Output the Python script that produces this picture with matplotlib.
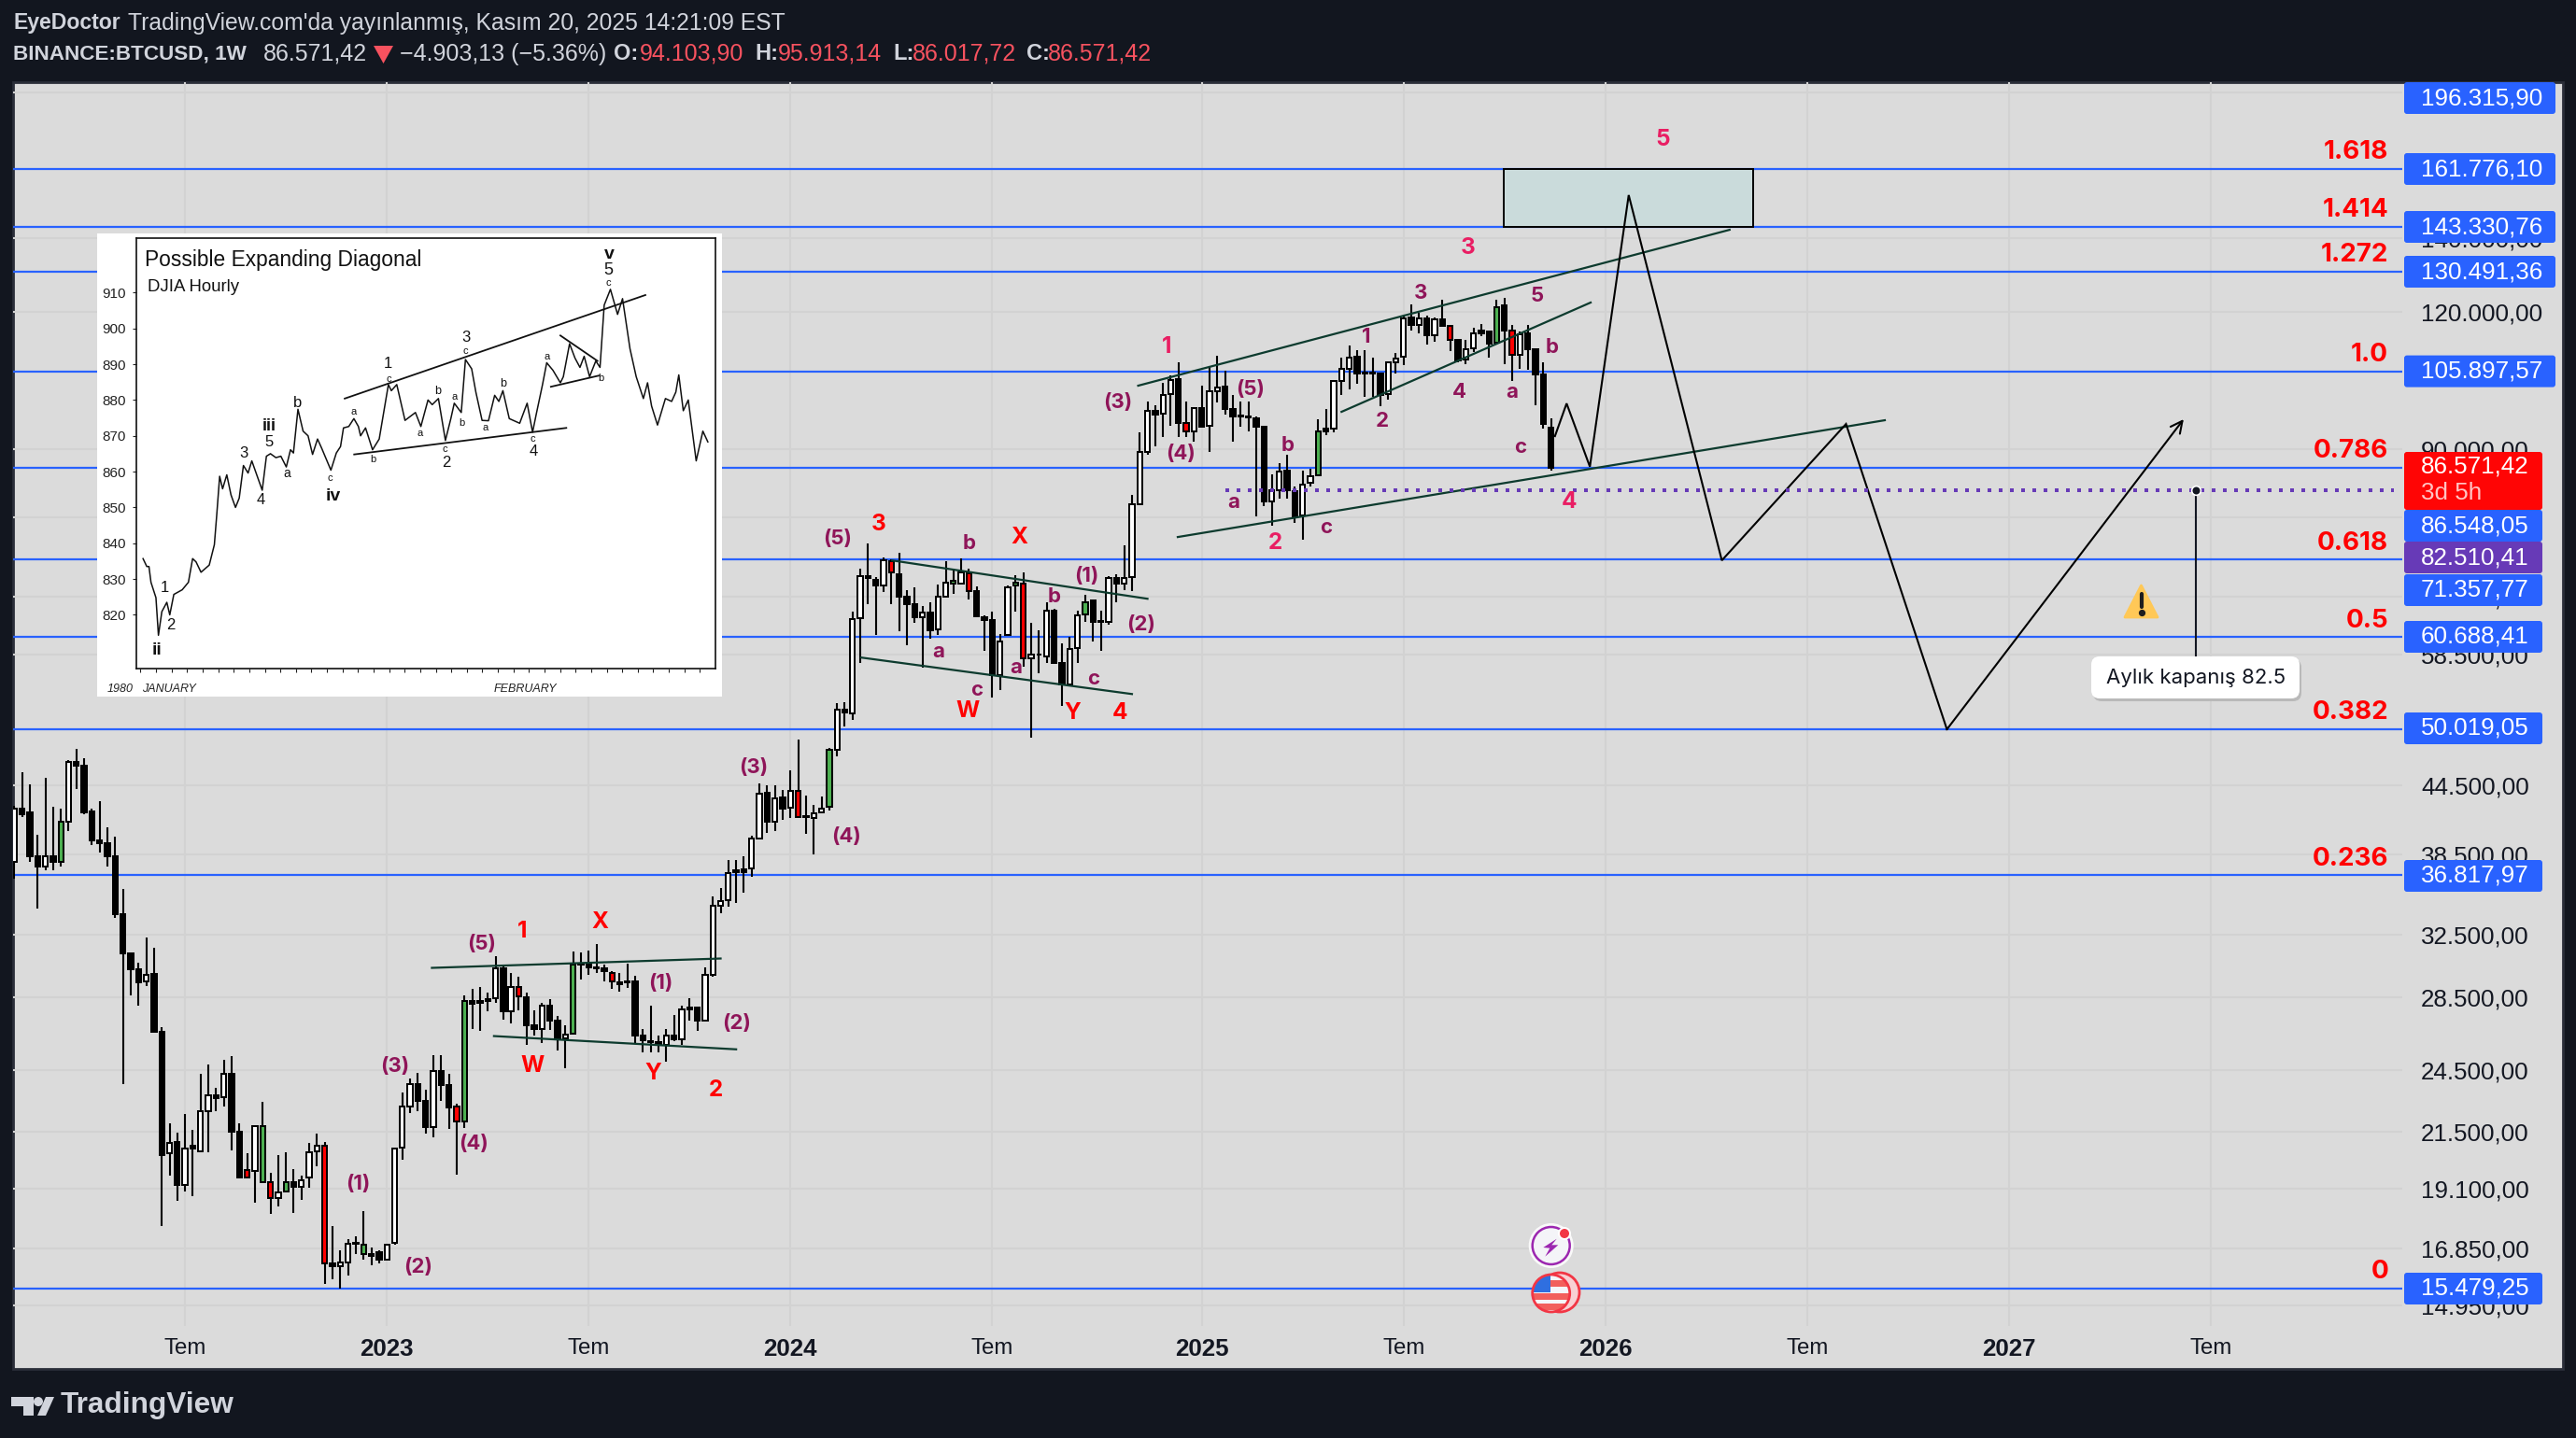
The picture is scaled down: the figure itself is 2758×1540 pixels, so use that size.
import matplotlib
matplotlib.use('Agg')
import matplotlib.pyplot as plt
from matplotlib.patches import Rectangle, Circle, FancyBboxPatch, Polygon

plt.rcParams['font.family'] = ['Liberation Sans', 'DejaVu Sans']

# weekly BTCUSD candles, first bar is the week of 2022-01-31
opens = [37880, 42360, 42000, 38340, 37530, 38340, 37880, 41230, 46700, 46300, 42100, 39600, 39350, 38330, 33970,
         31250, 30260, 29480, 29950, 26520, 20560, 21040, 19250, 20750, 20660, 22480, 23220, 23120, 24270, 21530,
         19870, 19830, 21780, 19360, 18730, 18990, 19370, 19180, 19540, 20630, 20900, 16330, 16230, 16370, 17000,
         16990, 16660, 16720, 16460, 17040, 20790, 22700, 23780, 22970, 21730, 24420, 23730, 22660, 22000, 28290,
         28170, 28290, 28440, 30300, 27680, 29150, 28500, 26880, 26700, 28000, 27140, 26150, 26420, 30520, 30620,
         30340, 30300, 30030, 29400, 29400, 29500, 26300, 26000, 25950, 25800, 26300, 26100, 27810, 27900, 27140,
         29880, 34520, 34940, 37200, 37050, 37330, 39750, 43810, 41240, 43310, 42420, 43930, 41620, 41500, 42000,
         42490, 47900, 52130, 51700, 63100, 68950, 68400, 67570, 71100, 69200, 66020, 65000, 63250, 63900, 61700,
         66050, 68200, 67800, 69400, 66800, 63300, 62900, 56040, 60970, 68000, 67800, 58030, 58440, 58300, 64150,
         57470, 54900, 59300, 63600, 65500, 62670, 62600, 68600, 67900, 68860, 80130, 89340, 97500, 96900, 100900,
         104200, 95000, 93300, 98100, 94400, 101500, 102500, 97800, 96500, 96300, 96000, 94200, 80550, 82500, 86000,
         82400, 78300, 83900, 85100, 93900, 93900, 103800, 106500, 109100, 105500, 105600, 105500, 100900, 108000,
         109200, 118500, 116700, 118400, 114100, 118000, 116400, 113100, 108500, 111100, 114600, 115000, 112400,
         121500, 115400, 109700, 114700, 110900, 105200, 94103]
highs = [42590, 45680, 44590, 40100, 45200, 42540, 42360, 46900, 48020, 47060, 42360, 43000, 40700, 39920, 35820,
         31300, 30630, 32300, 31650, 26770, 21880, 21480, 22320, 21600, 24300, 24750, 23600, 25020, 25200, 21880,
         20550, 21810, 22900, 19740, 20500, 20600, 19910, 19640, 21020, 21440, 21040, 17650, 16770, 17180, 17280,
         18200, 16890, 16780, 17000, 20800, 23370, 24060, 24340, 23500, 25260, 25260, 24280, 22800, 28650, 29030,
         29130, 28780, 31060, 30550, 30030, 29780, 28800, 27770, 28200, 28420, 27440, 26910, 31410, 31300, 31470,
         31880, 30520, 30100, 30030, 30600, 29850, 26690, 28010, 26300, 26690, 27470, 28000, 28480, 27950, 30340,
         35200, 35830, 37990, 37990, 38290, 40010, 44680, 44440, 44480, 44000, 45850, 48950, 43550, 42670, 43440,
         48120, 52800, 52950, 64000, 69960, 73810, 68760, 71680, 71400, 72400, 66990, 67270, 64700, 65200, 67760,
         71150, 70000, 71600, 69960, 67500, 63500, 63950, 61000, 67620, 69000, 69500, 62450, 61500, 65200, 64400,
         59900, 60690, 64100, 66300, 65500, 64150, 68950, 69200, 73600, 81700, 93100, 99300, 98700, 103400, 104900,
         108000, 99300, 98200, 102800, 106900, 109500, 106100, 100700, 99300, 99300, 96300, 94400, 85300, 87400, 88900,
         83200, 86000, 86300, 95700, 97900, 103800, 108900, 111800, 110700, 110700, 108900, 105700, 107900, 110000,
         118800, 121900, 119600, 118900, 118600, 123000, 116600, 113300, 113100, 116000, 116900, 115100, 123000,
         123600, 116600, 115200, 116600, 110950, 107900, 95913]
lows = [36540, 41640, 37880, 34320, 37240, 37190, 37530, 40410, 44120, 41830, 39220, 38590, 37470, 33650, 23770,
        28620, 28000, 29190, 26500, 17660, 19620, 18600, 18970, 18800, 20620, 20620, 22440, 22680, 20690, 19540,
        19500, 18530, 19360, 18100, 18390, 18960, 18150, 18650, 19140, 20010, 15650, 15790, 15480, 15930, 16660,
        16440, 16270, 16320, 16460, 16990, 20300, 22380, 22440, 21430, 21280, 22940, 21660, 19680, 21680, 26680,
        26570, 27700, 28170, 27220, 26990, 27730, 25800, 26320, 25900, 26620, 25500, 24590, 26400, 29600, 29900,
        30000, 29500, 29000, 28840, 29100, 25900, 25400, 25430, 25400, 24900, 26000, 25830, 27130, 26560, 27140,
        29800, 34020, 34450, 34760, 35530, 36700, 39750, 40250, 40440, 41400, 41500, 41620, 40140, 38440, 41960,
        42220, 47230, 50300, 50950, 57500, 64970, 60920, 66680, 64970, 61440, 59590, 62480, 56870, 60490, 60980,
        66050, 66400, 67700, 65600, 63350, 58900, 53500, 54300, 60820, 63950, 57000, 49130, 56200, 57500, 57470,
        52550, 54750, 57500, 62600, 60130, 59000, 62300, 65270, 67000, 66840, 80130, 88900, 90400, 92300, 94500,
        92200, 92200, 91300, 94300, 89400, 99200, 96800, 91300, 94200, 93300, 78160, 79900, 76600, 81100, 81100,
        77040, 74350, 83200, 85100, 92700, 93100, 100700, 101900, 103200, 100300, 100300, 98400, 99700, 105400,
        107300, 115400, 114600, 112100, 112700, 116300, 110400, 108000, 107400, 110300, 114000, 108900, 112000,
        107500, 103700, 106500, 106300, 98700, 93900, 86017]
closes = [42360, 41870, 38340, 37530, 38340, 37880, 41230, 46720, 46300, 42000, 39600, 39350, 38330, 33970, 31250,
          30260, 29430, 29890, 26520, 20500, 21010, 19230, 20750, 20880, 22480, 23220, 23080, 24270, 21530, 19540,
          19540, 21780, 19360, 18720, 18960, 19370, 19170, 19430, 20590, 20900, 16330, 16230, 16350, 17000, 17040,
          16660, 16600, 16460, 16990, 20750, 22700, 23780, 22970, 21730, 24420, 23730, 22650, 22000, 28290, 28150,
          28290, 28400, 30300, 27680, 29150, 28560, 26880, 26670, 28000, 27140, 26130, 26360, 30520, 30620, 30340,
          30300, 30130, 29500, 29300, 29500, 26300, 26050, 25950, 25800, 26300, 26100, 27810, 27900, 27140, 29880,
          34520, 34870, 37010, 37050, 37250, 39750, 43720, 41240, 43240, 42330, 43930, 41620, 41700, 41900, 42380,
          47900, 52130, 51800, 63020, 68950, 68600, 67570, 71230, 69500, 66020, 65000, 63200, 63900, 61480, 66050,
          68000, 67900, 69450, 66800, 63350, 62900, 56040, 60060, 67330, 67600, 58030, 58440, 58500, 64150, 57470,
          54900, 59200, 63520, 65300, 62670, 62800, 68600, 67800, 68700, 80130, 89340, 97500, 96800, 100700, 104050,
          95000, 93300, 98100, 94300, 101500, 102400, 97800, 96400, 96400, 96100, 94200, 80550, 82500, 85800, 82520,
          78160, 83500, 85000, 93400, 93400, 103800, 106400, 108900, 105500, 105600, 105500, 100800, 107900, 108700,
          118300, 116700, 118400, 114100, 118000, 116500, 113100, 108300, 110900, 114600, 115400, 112200, 121200,
          115400, 109700, 114500, 110800, 105200, 94800, 86571]
# ten bars per chunk: white, black, green, red bodies
body_colors = ('wkkkwkgwkk' 'kkkkkkkwkk' 'wkwkwwkwkk' 'rwgrwgkwww' 'rkwwkgkkww'
               'wwkkwkkrgk' 'wkwkwrkkwk' 'kwgkkkkrkk' 'kkkkwkwkkw' 'wwwkkwwkwk'
               'wrkwwgwkww' 'kkwrkkkwkw' 'wgwrkkkwwg' 'rwkwkkwwgk' 'kwkwwwwkww'
               'krwkwwkkkk' 'kkwwkkwwgk' 'wwwkkkkwww' 'kwkwkrkwwk' 'kgkrwkkkk')

# fib levels and chart values
fib_prices = [161776.10, 143330.76, 130491.36, 105897.57, 86548.05, 71357.77, 60688.41, 50019.05, 36817.97, 15479.25]
grid_prices = [190000, 140000, 120000, 90000, 78000, 66000, 58500, 44500, 38500, 32500, 28500, 24500, 21500,
               19100, 16850, 14950]
avg_close = 82510.41
last_close = 86571.42
tick_bars = [22, 48, 74, 100, 126, 153, 179, 205, 231, 257, 283]
tick_labels = ['Tem', '2023', 'Tem', '2024', 'Tem', '2025', 'Tem', '2026', 'Tem', '2027', 'Tem']

# drawn trend lines: bar, price
trend_lines = [
    ((53.8, 30330), (91.0, 30930)),
    ((61.8, 26290), (93.0, 25570)),
    ((113.1, 71240), (146.0, 65740)),
    ((109.1, 58120), (144.0, 53840)),
    ((144.8, 102750), (221.0, 142450)),
    ((149.9, 74820), (241.0, 95570)),
    ((171.0, 97270), (203.1, 122310)),
]
path_bars = [198.5, 200, 203, 208, 220, 236, 249, 279.5]
path_prices = [92440, 98990, 86700, 153200, 71240, 94820, 50000, 95770]

# DJIA inset series
djia_days = [.16, .40, .54, .67, .99, 1.15, 1.37, 1.69, 1.88, 2.14, 2.68, 3.08, 3.35, 3.57, 3.89, 4.42, 4.75, 4.91,
             5.09, 5.28, 5.55, 5.82, 6.11, 6.35, 6.62, 6.92, 7.16, 7.51, 7.83, 8.10, 8.36, 8.71, 9.03, 9.38, 9.65,
             9.84, 10.13, 10.46, 10.78, 11.07, 11.39, 11.66, 12.25, 12.6, 12.87, 13.06, 13.4, 13.73, 14.02, 14.16,
             14.48, 14.93, 15.36, 15.95, 16.14, 16.49, 17.02, 17.69, 18.04, 18.5, 18.77, 19.17, 19.62, 19.97, 20.19,
             20.64, 20.91, 21.31, 21.58, 21.98, 22.39, 22.79, 23.06, 23.32, 23.73, 24.4, 24.88, 25.23, 25.47, 25.87,
             26.14, 26.54, 27.02, 27.21, 27.61, 27.96, 28.28, 28.55, 28.9, 29.3, 29.57, 29.84, 30.24, 30.7, 31.02,
             31.5, 31.9, 32.36, 32.63, 32.89, 33.27, 33.78, 34.18, 34.45, 34.64, 34.93, 35.25, 35.76, 36.19, 36.51]
djia_values = [835.7, 833.5, 833.5, 829.1, 824.8, 814.3, 820.9, 823.5, 820, 825.7, 827, 829.1, 835.7, 834.8, 831.9,
               833.9, 839.6, 848.3, 858.7, 855.2, 859.1, 853.5, 850, 852.6, 861.7, 859.6, 863, 858.7, 854.8, 864.3,
               865, 863.9, 864.3, 861.3, 866.1, 865.2, 877.4, 871.3, 870, 864.8, 869.1, 866.5, 860.4, 865.2, 867,
               872.2, 872.6, 874.8, 872.6, 870, 872.2, 866.1, 869.1, 884.3, 882.6, 884.3, 874.3, 876.5, 872.6, 880,
               878.7, 880.4, 868.7, 874.8, 879.1, 876.5, 891.3, 888.7, 882.2, 874.3, 874.2, 881.3, 879.6, 882.6,
               874.8, 873.5, 879.1, 871, 876.1, 884.3, 890.4, 888.3, 884.8, 886.5, 895.7, 891.7, 889.1, 892.2, 886.5,
               890.9, 889.1, 906.5, 910.9, 903.9, 908.3, 894.3, 886.5, 880.4, 884.8, 878.3, 873, 880.4, 879.6, 882.2,
               887, 877, 880, 863, 871.3, 868.3]
djia_lines = [
    ((13.14, 880.4), (32.49, 909.3)),
    ((13.75, 864.8), (27.4, 872.2)),
    ((27.02, 898), (29.41, 890.9)),
    ((26.41, 883.7), (29.49, 886.8)),
]

BG = '#12161f'
PANE = '#dbdbdb'
GRID = '#d2d2d2'
BLUE = '#2962ff'
MAROON = '#8f1559'
RED = '#ff0000'
PINK = '#e91e63'
HEAD_RED = '#f7525f'
TXT = '#d1d4dc'
INTER = ['Inter', 'DejaVu Sans']
W, H = 2758, 1540


def fmt(v):
    return f'{v:,.2f}'.replace(',', '#').replace('.', ',').replace('#', '.')


def px_axes(zorder):
    a = fig.add_axes([0, 0, 1, 1], zorder=zorder)
    a.set_xlim(0, W)
    a.set_ylim(H, 0)
    a.axis('off')
    a.patch.set_alpha(0)
    return a


fig = plt.figure(figsize=(W / 100, H / 100), dpi=100, facecolor=BG)

under = px_axes(0)
under.add_patch(Rectangle((14, 88), 2730, 1378, fc=PANE, ec='#2a2e39', lw=2))

ax = fig.add_axes([14 / W, 1 - 1420 / H, (2572 - 14) / W, (1420 - 88) / H], zorder=1)
ax.patch.set_alpha(0)
ax.set_yscale('log')
ax.set_xlim(-0.16, 307.67)
ax.set_ylim(14320, 194100)
for s in ax.spines.values():
    s.set_visible(False)
ax.minorticks_off()
ax.set_yticks(grid_prices)
ax.set_yticklabels([fmt(p) for p in grid_prices], fontsize=18.7, color='#131722')
ax.yaxis.tick_right()
ax.tick_params(axis='y', length=0, pad=14.4, which='both')
ax.yaxis.set_minor_locator(plt.NullLocator())
ax.set_xticks(tick_bars)
ax.set_xticklabels(tick_labels, fontsize=17.3, color='#131722')
ax.tick_params(axis='x', length=0, pad=9)
for lab, t in zip(ax.get_xticklabels(), tick_labels):
    if t != 'Tem':
        lab.set_fontweight('bold')
        lab.set_fontsize(18.6)
ax.grid(True, color=GRID, lw=1.5, zorder=0)
ax.set_axisbelow(True)

# fib lines
for p in fib_prices:
    ax.axhline(p, color=BLUE, lw=1.6, zorder=1)

# candles
bars = range(len(opens))
colors = {'w': 'white', 'k': 'black', 'g': '#4caf50', 'r': RED}
ax.vlines(bars, lows, highs, color='black', lw=1.5, zorder=2)
tops = [max(o, c) for o, c in zip(opens, closes)]
bots = [min(o, c) for o, c in zip(opens, closes)]
ax.bar(bars, [t - b for t, b in zip(tops, bots)], bottom=bots, width=0.64,
       color=[colors[c] for c in body_colors], edgecolor='black', linewidth=1.44, zorder=3)

# drawings
ax.add_patch(Rectangle((191.9, 143330.76), 32.1, 161776.10 - 143330.76, fc='#cadbdb', ec='black', lw=1.4, zorder=2))
for (x0, y0), (x1, y1) in trend_lines:
    ax.plot([x0, x1], [y0, y1], color='#0d3b2e', lw=1.6, zorder=4)
ax.plot(path_bars[:-1], path_prices[:-1], color='black', lw=1.5, zorder=4, solid_joinstyle='miter')
ax.annotate('', xy=(path_bars[-1], path_prices[-1]), xytext=(path_bars[-2], path_prices[-2]),
            arrowprops=dict(arrowstyle='->,head_length=0.9,head_width=0.45', color='black', lw=1.5,
                            shrinkA=0, shrinkB=0), zorder=4)
ax.plot([156, 306.6], [avg_close, avg_close], color='#673ab7', lw=2.88, ls=(0, (1, 2)), zorder=4)
ax.plot([281.1, 281.1], [avg_close, 58220], color='#131722', lw=1.5, zorder=4)
ax.plot([281.1], [avg_close], 'o', ms=7, mfc='#131722', mec='white', mew=1.2, zorder=5)

over = px_axes(10)


def txt(x, y, s, **kw):
    kw.setdefault('ha', 'center')
    kw.setdefault('va', 'center')
    over.text(x, y, s, **kw)


# header
txt(14, 25, 'EyeDoctor', ha='left', color=TXT, fontsize=16.6, fontweight='bold')
txt(137, 25, "TradingView.com'da yayınlanmış, Kasım 20, 2025 14:21:09 EST", ha='left', color=TXT, fontsize=17.8)
txt(14, 58, 'BINANCE:BTCUSD, 1W', ha='left', color=TXT, fontsize=16.2, fontweight='bold')
txt(282, 58, '86.571,42', ha='left', color=TXT, fontsize=18)
over.add_patch(Polygon([(400, 49), (421, 49), (410.5, 68)], fc=HEAD_RED, ec='none'))
txt(428, 58, '−4.903,13 (−5.36%)', ha='left', color=TXT, fontsize=18)
for x0, name, x1, val in [(657, 'O:', 685, '94.103,90'), (808, 'H:', 833, '95.913,14'),
                          (956, 'L:', 977, '86.017,72'), (1099, 'C:', 1122, '86.571,42')]:
    txt(x0, 58, name, ha='left', color=TXT, fontsize=17, fontweight='bold')
    txt(x1, 58, val, ha='left', color=HEAD_RED, fontsize=18)

# scale boxes
box_rows = [(196315.90, 105, 2736, BLUE), (161776.10, 181, 2736, BLUE), (143330.76, 243, 2736, BLUE),
            (130491.36, 291, 2736, BLUE), (105897.57, 397.6, 2736, BLUE), (86548.05, 563, 2722, BLUE),
            (82510.41, 597, 2722, '#673ab7'), (71357.77, 632, 2722, BLUE), (60688.41, 682, 2722, BLUE),
            (50019.05, 780, 2722, BLUE), (36817.97, 938, 2722, BLUE), (15479.25, 1380, 2722, BLUE)]
for val, yc, xr, col in box_rows:
    over.add_patch(FancyBboxPatch((2574, yc - 17), xr - 2574, 34, boxstyle='round,pad=0,rounding_size=3',
                                  fc=col, ec='none'))
    txt(2592, yc, fmt(val), ha='left', color='white', fontsize=18.7)
over.add_patch(FancyBboxPatch((2574, 484), 148, 62, boxstyle='round,pad=0,rounding_size=3', fc='#ff0505', ec='none'))
txt(2592, 500, fmt(last_close), ha='left', color='white', fontsize=18.7)
txt(2592, 528, '3d 5h', ha='left', color='#ffc4c4', fontsize=18.7)

# fib texts
for s, y in [('1.618', 163), ('1.414', 225), ('1.272', 273), ('1.0', 380), ('0.786', 483), ('0.618', 582),
             ('0.5', 665), ('0.382', 763), ('0.236', 920), ('0', 1362)]:
    txt(2557, y, s, ha='right', color=RED, fontsize=20, fontweight='bold', family=INTER)

# wave counts
maroon_labels = [('(5)', 516, 1011), ('(1)', 707, 1053), ('(2)', 789, 1096), ('(3)', 423, 1142), ('(1)', 383, 1268),
                 ('(2)', 448, 1357), ('(4)', 507, 1225), ('(5)', 897, 577), ('b', 1038, 582), ('(1)', 1163, 617),
                 ('b', 1129, 639), ('(2)', 1222, 669), ('a', 1005, 698), ('a', 1088, 715), ('c', 1171, 727),
                 ('c', 1046, 739), ('(4)', 906, 896), ('(3)', 807, 822), ('(3)', 1197, 431), ('(5)', 1339, 417),
                 ('(4)', 1264, 486), ('1', 1463, 361), ('2', 1480, 451), ('4', 1562, 420), ('a', 1619, 420),
                 ('b', 1662, 372), ('c', 1628, 479), ('b', 1379, 477), ('a', 1321, 538), ('c', 1420, 565),
                 ('3', 1521, 314), ('5', 1646, 317)]
for s, x, y in maroon_labels:
    txt(x, y, s, color=MAROON, fontsize=16, fontweight='bold', family=INTER)
red_labels = [('1', 559, 998), ('X', 642, 988), ('W', 570, 1141), ('Y', 699, 1150), ('2', 766, 1167),
              ('3', 941, 562), ('X', 1091, 575), ('W', 1036, 762), ('Y', 1148, 763), ('4', 1199, 763)]
for s, x, y in red_labels:
    txt(x, y, s, color=RED, fontsize=17.5, fontweight='bold', family=INTER)
pink_labels = [('1', 1249, 372), ('2', 1365, 582), ('4', 1680, 537), ('3', 1572, 266), ('5', 1780, 149)]
for s, x, y in pink_labels:
    txt(x, y, s, color=PINK, fontsize=17.5, fontweight='bold', family=INTER)

# tooltip
over.add_patch(FancyBboxPatch((2241, 706), 223, 45, boxstyle='round,pad=0,rounding_size=9', fc='#b9b9b9', ec='none'))
over.add_patch(FancyBboxPatch((2239, 703), 223, 45, boxstyle='round,pad=0,rounding_size=9', fc='white', ec='none'))
txt(2351, 726, 'Aylık kapanış 82.5', color='#131722', fontsize=16, family=INTER)

# warning sign
over.add_patch(Polygon([(2292.5, 627), (2310, 661), (2275, 661)], fc='#ffc857', ec='#ffc857', lw=2, joinstyle='round'))
over.plot([2292.5, 2292.5], [636, 650], color='#1e1e1e', lw=3, solid_capstyle='round')
over.plot([2292.5], [656], 'o', ms=4.2, color='#1e1e1e')

# news and earnings icons
over.add_patch(Circle((1660.7, 1334), 24, fc='white', ec='none', alpha=0.85))
over.add_patch(Circle((1660.7, 1334), 20, fc='#f4f4f8', ec='#9c27b0', lw=1.8))
over.add_patch(Polygon([(1666.7, 1326.7), (1652.3, 1336), (1659.3, 1336.7), (1654.3, 1345.7), (1668.3, 1333.3),
                        (1661.3, 1333.3)], fc='#9c27b0', ec='none'))
over.add_patch(Circle((1675, 1321), 7, fc='white', ec='none'))
over.add_patch(Circle((1675, 1321), 5, fc='#f23645', ec='none'))
over.add_patch(Circle((1670, 1384), 21, fc='#f8d0d4', ec='#f23645', lw=2))
flag = Circle((1660.7, 1385), 20, fc='#f5f5fa', ec='none')
over.add_patch(flag)
for y0 in (1371, 1385, 1396):
    r = Rectangle((1640, y0), 42, 7, fc='#f25f5c', ec='none')
    over.add_patch(r)
    r.set_clip_path(flag)
canton = Rectangle((1640, 1364), 20, 20, fc='#2f6fe0', ec='none')
over.add_patch(canton)
canton.set_clip_path(flag)
over.add_patch(Circle((1660.7, 1385), 20, fc='none', ec='#f23645', lw=2))

# logo
over.add_patch(Polygon([(12, 1496), (36, 1496), (36, 1516), (25, 1516), (25, 1506), (12, 1506)], fc=TXT, ec='none'))
over.add_patch(Circle((41, 1501), 5, fc=TXT, ec='none'))
over.add_patch(Polygon([(40, 1516), (49, 1496), (58, 1496), (49, 1516)], fc=TXT, ec='none'))
txt(65, 1505, 'TradingView', ha='left', color=TXT, fontsize=22.8, fontweight='bold')

# inset picture
over.add_patch(Rectangle((104, 250), 669, 496, fc='white', ec='none', zorder=3))
ins = fig.add_axes([146 / W, 1 - 716 / H, (766 - 146) / W, (716 - 255) / H], zorder=11)
ins.patch.set_alpha(0)
ins.set_xlim(-0.27, 37)
ins.set_ylim(805, 925.2)
ins.plot(djia_days, djia_values, color='#111111', lw=1.1)
for (x0, y0), (x1, y1) in djia_lines:
    ins.plot([x0, x1], [y0, y1], color='#111111', lw=1.3)
ins.set_yticks(range(820, 920, 10))
ins.set_yticklabels([str(v) for v in range(820, 920, 10)], fontsize=11, color='#222222')
ins.set_xticks(range(0, 37))
ins.set_xticklabels([])
ins.tick_params(axis='both', length=3, width=0.8, pad=5, color='#222222')
for s in ins.spines.values():
    s.set_linewidth(1.2)
    s.set_color('#111111')
over2 = px_axes(12)
over2.text(155, 278, 'Possible Expanding Diagonal', fontsize=16.4, color='#111111', va='center')
over2.text(158, 307, 'DJIA Hourly', fontsize=13.4, color='#111111', va='center')
over2.text(115, 738, '1980', fontsize=9, color='#222222', style='italic', va='center')
over2.text(152, 738, 'JANUARY', fontsize=9, color='#222222', style='italic', va='center')
over2.text(529, 738, 'FEBRUARY', fontsize=9, color='#222222', style='italic', va='center')
inset_labels = [('1', 728, 450, 12), ('c', 730, 497, 8), ('3', 915, 365, 12), ('c', 915, 407, 8), ('2', 868, 765, 12),
                ('c', 865, 722, 8), ('4', 1077, 730, 12), ('c', 1076, 690, 8), ('v', 1260, 98, 14), ('5', 1258, 150, 13),
                ('c', 1258, 188, 8), ('b', 513, 575, 12), ('iii', 445, 650, 13), ('5', 443, 700, 12), ('3', 382, 738, 12),
                ('4', 425, 888, 12), ('a', 487, 802, 10), ('iv', 597, 875, 14), ('c', 590, 817, 8), ('a', 647, 603, 8),
                ('b', 692, 757, 8), ('a', 805, 673, 8), ('b', 848, 537, 9), ('a', 888, 556, 8), ('b', 905, 640, 8),
                ('a', 962, 654, 8), ('b', 1005, 512, 9), ('a', 1110, 425, 8), ('b', 1240, 495, 8), ('1', 193, 1170, 12),
                ('2', 207, 1290, 12), ('ii', 175, 1370, 14)]
for s, zx, zy, size in inset_labels:
    over2.text(90 + zx / 2.24, 240 + zy / 3, s, fontsize=size, color='#111111', ha='center', va='center',
               fontweight='bold' if s in ('v', 'iv', 'ii', 'iii') else 'normal')

fig.savefig('out.png', dpi=100, facecolor=BG)
